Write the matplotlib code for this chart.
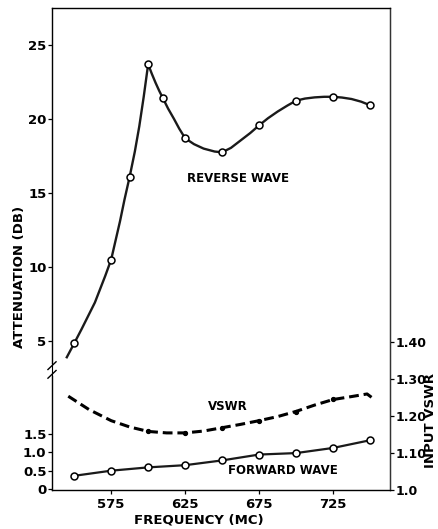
import matplotlib.pyplot as plt
from matplotlib.patches import Rectangle

# reverse wave attenuation (db), measured points
reverse_mc = [550, 575, 587.5, 600, 610, 625, 650, 675, 700, 725, 750]
reverse_db = [4.84, 10.5, 16.1, 23.7, 21.4, 18.7, 17.75, 19.57, 21.24, 21.5, 20.93]
# hand drawn curve through the points
reverse_trace_mc = [545, 550, 555, 560, 564, 567.5, 571, 575, 578, 581, 584, 587.5,
                    591, 594, 597, 600, 602.5, 605, 607.5, 610, 613.5, 617.5, 621,
                    625, 631, 637.5, 645, 650, 656, 662.5, 669, 675, 681, 687.5,
                    694, 700, 706, 712.5, 719, 725, 731, 737.5, 744, 750]
reverse_trace_db = [3.9, 4.84, 5.8, 6.8, 7.6, 8.5, 9.4, 10.5, 11.8, 13.1, 14.55, 16.1,
                    17.8, 19.5, 21.5, 23.7, 23.05, 22.45, 21.9, 21.4, 20.7, 20.0, 19.35,
                    18.7, 18.3, 18.0, 17.8, 17.75, 18.05, 18.55, 19.05, 19.57, 20.05, 20.5,
                    20.9, 21.24, 21.38, 21.46, 21.5, 21.5, 21.45, 21.35, 21.17, 20.93]

# forward wave attenuation (db)
forward_mc = [550, 575, 600, 625, 650, 675, 700, 725, 750]
forward_db = [0.36, 0.50, 0.59, 0.65, 0.78, 0.94, 0.98, 1.12, 1.33]

# input vswr
vswr_mc = [600, 625, 650, 675, 700, 725]
vswr = [1.158, 1.154, 1.168, 1.187, 1.210, 1.245]
vswr_trace_mc = [546, 560, 575, 587.5, 600, 612.5, 625, 637.5, 650, 662.5,
                 675, 687.5, 700, 712.5, 725, 737.5, 748, 751]
vswr_trace = [1.253, 1.217, 1.187, 1.170, 1.158, 1.154, 1.154, 1.159, 1.168, 1.177,
              1.187, 1.198, 1.212, 1.229, 1.244, 1.252, 1.259, 1.250]

freq_ticks = [575, 625, 675, 725]
rev_ticks = [5, 10, 15, 20, 25]
fwd_ticks = [0, 0.5, 1.0, 1.5]
fwd_labels = ['0', '0.5', '1.0', '1.5']
vswr_ticks = [1.0, 1.1, 1.2, 1.3, 1.4]
vswr_labels = ['1.0', '1.10', '1.20', '1.30', '1.40']

plt.rcParams['font.family'] = ['DejaVu Sans']
plt.rcParams['font.weight'] = 'bold'

dpi = 100
fig = plt.figure(figsize=(438 / dpi, 529 / dpi), dpi=dpi)
rect = [52 / 438, 39 / 529, 338 / 438, 482 / 529]

ax = fig.add_axes(rect)
axf = fig.add_axes(rect, sharex=ax, frameon=False)
axv = ax.twinx()

marker_style = dict(marker='o', markersize=5, markerfacecolor='white',
                    markeredgecolor='black', markeredgewidth=1.1, linestyle='none')

ax.plot(reverse_trace_mc, reverse_trace_db, color='#1a1a1a', lw=1.7)
ax.plot(reverse_mc, reverse_db, **marker_style)
ax.set_xlim(535, 763.5)
ax.set_ylim(-5.07, 27.5)
ax.set_yticks(rev_ticks)
ax.set_xticks(freq_ticks)

axf.plot(forward_mc, forward_db, color='#1a1a1a', lw=1.6)
axf.plot(forward_mc, forward_db, **marker_style)
axf.set_ylim(-0.027, 13.12)
axf.set_yticks(fwd_ticks)
axf.set_yticklabels(fwd_labels)
axf.tick_params(axis='x', bottom=False, labelbottom=False)

axv.plot(vswr_trace_mc, vswr_trace, color='black', lw=2.2, linestyle=(0, (3.2, 1.6)))
axv.plot(vswr_mc, vswr, 'o', color='black', markersize=2.8)
axv.set_ylim(1.0, 2.30)
axv.set_yticks(vswr_ticks)
axv.set_yticklabels(vswr_labels)

for a in (ax, axf):
    a.tick_params(length=3, width=0.9, pad=1, labelsize=9.5, direction='out')
axv.tick_params(length=3, width=0.9, pad=1, labelsize=9, direction='out')
for s in ax.spines.values():
    s.set_linewidth(1.0)
    s.set_color('#333333')
axv.spines['right'].set_color('#333333')
ax.tick_params(axis='x', pad=3)

fig.text(199 / 438, 1 - 520 / 529, 'FREQUENCY (MC)', ha='center', va='center',
         fontsize=9.5, fontweight='bold')
fig.text(20 / 438, 1 - 277 / 529, 'ATTENUATION (DB)', rotation=90, ha='center',
         va='center', fontsize=9.5, fontweight='bold')
fig.text(431 / 438, 1 - 420 / 529, 'INPUT VSWR', rotation=90, ha='center',
         va='center', fontsize=9.5, fontweight='bold')

fig.text(238 / 438, 1 - 179 / 529, 'REVERSE WAVE', ha='center', va='center',
         fontsize=8.5, fontweight='bold')
fig.text(228 / 438, 1 - 407 / 529, 'VSWR', ha='center', va='center',
         fontsize=8.5, fontweight='bold')
fig.text(283 / 438, 1 - 470 / 529, 'FORWARD WAVE', ha='center', va='center',
         fontsize=8.5, fontweight='bold')

# axis break mark on the left spine
yb = 120 / 482
ax.add_patch(Rectangle((-0.01, yb - 0.012), 0.02, 0.024, transform=ax.transAxes,
                       facecolor='white', edgecolor='none', clip_on=False, zorder=5))
for dy in (-0.009, 0.009):
    ax.plot([-0.012, 0.012], [yb + dy - 0.008, yb + dy + 0.008], color='black',
            lw=1.0, transform=ax.transAxes, clip_on=False, zorder=6)

fig.savefig('out.png', dpi=dpi)
